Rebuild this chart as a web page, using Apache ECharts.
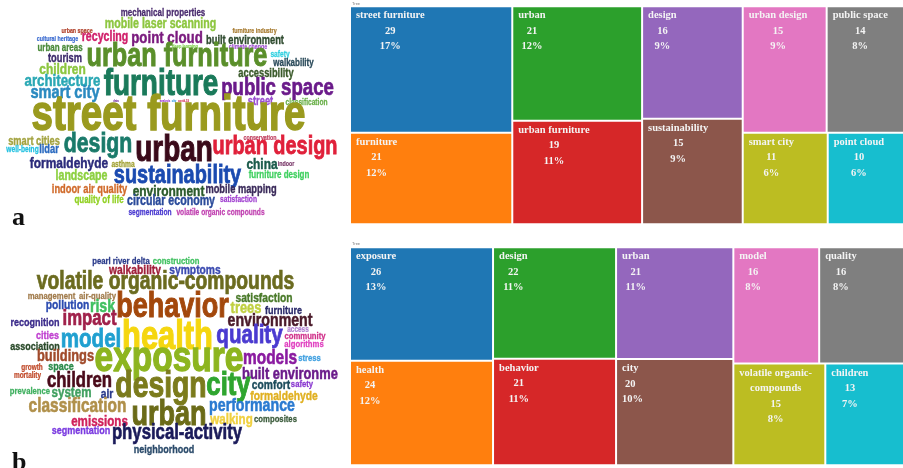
<!DOCTYPE html>
<html>
<head>
<meta charset="utf-8">
<script src="https://cdn.jsdelivr.net/npm/echarts@6/dist/echarts.min.js"></script>
<style>
  html, body { margin: 0; padding: 0; background: #ffffff; }
  #chart { width: 903px; height: 468px; }
</style>
</head>
<body>
<div id="chart"></div>
<script>
// ---------------- Panel a: keyword cloud (word, occurrence count) ----------------
const cloudAWords = [
  'mechanical properties', 'mobile laser scanning', 'urban space', 'furniture industry',
  'cultural heritage', 'recycling', 'point cloud', 'built environment', 'urban areas',
  'deep learning', 'climate change', 'urban furniture', 'tourism', 'safety', 'walkability',
  'children', 'accessibility', 'architecture', 'furniture', 'public space', 'smart city',
  'data', 'analysis', 'city', 'covid-19', 'street', 'classification', 'street furniture',
  'conservation', 'smart cities', 'well-being', 'lidar', 'design', 'urban', 'urban design',
  'indoor', 'formaldehyde', 'asthma', 'china', 'sustainability', 'landscape',
  'furniture design', 'indoor air quality', 'environment', 'mobile mapping',
  'quality of life', 'circular economy', 'satisfaction', 'segmentation',
  'volatile organic compounds'
];
const cloudACounts = [
  6, 8, 4, 4, 4, 8, 10, 7, 6, 3, 4, 19, 7, 5, 6, 9, 7, 10, 21, 14, 11,
  2, 2, 2, 2, 7, 5, 29, 4, 7, 5, 7, 16, 21, 15, 4, 9, 5, 9, 15, 8,
  6, 7, 9, 7, 6, 8, 5, 5, 5
];

// ---------------- Panel b: keyword cloud ----------------
const cloudBWords = [
  'pearl river delta', 'construction', 'walkability', 'symptoms',
  'volatile organic-compounds', 'management', 'air-quality', 'behavior', 'satisfaction',
  'pollution', 'risk', 'trees', 'furniture', 'recognition', 'impact', 'environment',
  'health', 'cities', 'model', 'quality', 'access', 'community', 'algorithms',
  'association', 'exposure', 'buildings', 'models', 'stress', 'growth', 'space',
  'mortality', 'built environment', 'children', 'design', 'city', 'comfort', 'safety',
  'prevalence', 'system', 'air', 'formaldehyde', 'classification', 'urban',
  'performance', 'emissions', 'walking', 'composites', 'segmentation',
  'physical-activity', 'neighborhood'
];
const cloudBCounts = [
  6, 6, 8, 8, 15, 6, 6, 21, 8, 8, 11, 10, 7, 7, 13, 11, 24, 7, 16, 16, 5, 6, 6,
  7, 26, 10, 12, 6, 5, 7, 5, 10, 13, 22, 20, 8, 6, 6, 9, 8, 8, 12, 21, 11, 9, 9, 6,
  7, 13, 7
];

// ---------------- Treemaps: top-10 keywords per panel ----------------
const treeACategories = [
  'street furniture', 'furniture', 'urban', 'urban furniture', 'design',
  'sustainability', 'urban design', 'public space', 'smart city', 'point cloud'
];
const treeAValues = [29, 21, 21, 19, 16, 15, 15, 14, 11, 10];

const treeBCategories = [
  'exposure', 'health', 'design', 'behavior', 'urban', 'city', 'model', 'quality',
  'volatile organic-compounds', 'children'
];
const treeBValues = [26, 24, 22, 21, 21, 20, 16, 16, 15, 13];

// ---------------- Word placement inside each cloud box (centre x, centre y) ----------------
const cloudALayout = [
  [163, 13], [160.5, 24.5], [77, 31], [254.5, 31], [57.5, 39], [105, 37], [167, 38],
  [245, 41], [60, 48], [185, 47], [248, 47], [177, 57.5], [65, 59], [280, 55],
  [293.5, 63], [62.5, 70], [266, 74], [62.5, 81.5], [161, 85], [277.5, 88], [65, 93],
  [116, 101], [165, 101], [174, 101], [183.5, 101], [260.5, 101.5], [306.5, 102.5],
  [168.5, 116.5], [260, 138.5], [34, 142], [22.5, 150], [49, 150], [98, 144],
  [174, 151.5], [275, 147], [286, 164], [69, 163.5], [123, 164.5], [262, 164.5],
  [177.5, 175.5], [81.5, 176], [279, 175], [89.5, 190], [168.5, 192], [241, 190],
  [99, 200], [171, 201], [238.5, 200], [150, 213], [220.5, 213]
];
const cloudBLayout = [
  [121, 21], [176, 21.5], [135, 30], [195, 30], [165.5, 42.5], [51.5, 56], [97.5, 56],
  [172.5, 67.5], [264, 58.5], [67.5, 65.5], [102.5, 66.5], [246, 68.5], [283.5, 70.5],
  [35, 82.5], [89.5, 79], [270, 81], [167.5, 97.5], [47.5, 96], [91, 100], [249.5, 95.5],
  [298, 90], [305, 96], [304, 104], [35, 106.5], [169, 119.5], [65.5, 116], [270, 118.5],
  [309.5, 118], [32, 128], [61, 127], [27.5, 135.5], [296, 134.5], [79.5, 141.5],
  [161, 146.5], [228.5, 146], [271, 145.5], [302, 144], [30, 151.5], [71.5, 153],
  [107, 154], [284, 156], [77.5, 167], [169, 175], [252, 166], [99.5, 182], [231.5, 180],
  [275.5, 179.5], [81, 191], [177, 193], [164, 210]
];

// ---------------- Colours ----------------
const cloudAColors = [
  '#4a2c6e', '#8dc63f', '#b0402a', '#a5782c', '#3a6ad0', '#d0206a', '#7a1a7e', '#2e4a2e',
  '#4a8a3a', '#7ed04a', '#a050d0', '#5a8f2a', '#3b2a6a', '#30d0e0', '#2a4a5a', '#8cc63f',
  '#3a5a2a', '#2aa8b4', '#1a7a5a', '#6a1a8a', '#2a8ac0', '#7a3aa0', '#a040d0', '#40a0e0',
  '#d03050', '#9b4fd0', '#6ab04a', '#9a9a1e', '#c04060', '#a3a340', '#20c0e0', '#2a6ac0',
  '#1a7a6a', '#3a0a1a', '#e0203a', '#7a3a6a', '#2a2a7a', '#a0a030', '#1a5a4a', '#1a4ab0',
  '#8cd040', '#40d060', '#d06a2a', '#2a5a2a', '#3a2a5a', '#90d020', '#2a4a9a', '#a040d0',
  '#4a3ad0', '#c040b0'
];
const cloudBColors = [
  '#2a3a8a', '#40c060', '#a0203a', '#3a4ab0', '#6b6b1f', '#a07a4a', '#a07a4a', '#a3480c',
  '#4a7a2a', '#2a4ab0', '#40c060', '#c0d040', '#2a2a6a', '#3a2a8a', '#a0204a', '#4a1a2a',
  '#f5d60f', '#c040d0', '#20a0d0', '#4a3ad0', '#b080d0', '#d0308a', '#e040c0', '#2a4a2a',
  '#8db51f', '#a04a2a', '#8a1aa0', '#40a0e0', '#c04a2a', '#2a8a4a', '#c04a2a', '#6a1a8a',
  '#4a0a1a', '#7b7b1c', '#2fa52f', '#1a4a5a', '#8a3ad0', '#40b060', '#40a060', '#2a3a8a',
  '#e0b020', '#b0904a', '#6b6b18', '#2a7ad0', '#d0205a', '#f0d040', '#3a5a3a', '#7a3ae0',
  '#1a1a5a', '#2a4a6a'
];
const treePalette = [
  '#1f77b4', '#ff7f0e', '#2ca02c', '#d62728', '#9467bd',
  '#8c564b', '#e377c2', '#7f7f7f', '#bcbd22', '#17becf'
];

// ---------------- Helpers ----------------
const WORD_FONT = '"Liberation Sans", Arial, sans-serif';
const WORD_CONDENSE = 0.82;            // horizontal squeeze for a condensed display face
const WORD_STRETCH = 1.06;             // slightly taller glyphs
const LABEL_FONT = '"Liberation Serif", "Times New Roman", serif';
const LABEL_SIZE = 10.5;
const LABEL_LINE = 15.5;

const measureCtx = document.createElement('canvas').getContext('2d');
function textWidth(s) {
  measureCtx.font = 'bold ' + LABEL_SIZE + 'px ' + LABEL_FONT;
  return measureCtx.measureText(s).width;
}

function cloudSeries(words, counts, layout, colors, pxPerCount, gridIndex, clip) {
  return {
    type: 'custom',
    coordinateSystem: 'cartesian2d',
    xAxisIndex: gridIndex,
    yAxisIndex: gridIndex,
    clip: clip,
    silent: true,
    animation: false,
    data: words.map((w, i) => ({ name: w, value: [layout[i][0], layout[i][1], counts[i]] })),
    renderItem: function (params, api) {
      const pt = api.coord([api.value(0), api.value(1)]);
      const i = params.dataIndex;
      const size = api.value(2) * pxPerCount;
      return {
        type: 'text',
        x: pt[0],
        y: pt[1],
        scaleX: WORD_CONDENSE,
        scaleY: WORD_STRETCH,
        style: {
          text: words[i],
          fontFamily: WORD_FONT,
          fontWeight: 'bold',
          fontSize: size,
          fill: colors[i],
          stroke: colors[i],
          lineWidth: size * 0.03,
          align: 'center',
          verticalAlign: 'middle'
        }
      };
    }
  };
}

function nameLines(name) {
  // long compound keywords wrap after the hyphen
  if (name.length > 20 && name.indexOf('-') > 0) {
    const k = name.indexOf('-');
    return [name.slice(0, k + 1), name.slice(k + 1)];
  }
  return [name];
}

function tokenStyle(offset) {
  return {
    fontFamily: LABEL_FONT,
    fontWeight: 'bold',
    fontSize: LABEL_SIZE,
    lineHeight: LABEL_LINE,
    color: '#f4f4f4',
    padding: [0, 0, 0, Math.max(0, offset)]
  };
}

function treemapSeries(cats, vals, top) {
  const total = vals.reduce((a, b) => a + b, 0);
  const pct = v => Math.round(v / total * 100) + '%';
  return {
    type: 'treemap',
    left: 351,
    top: top,
    width: 553,
    height: 216,
    roam: false,
    nodeClick: false,
    sort: false,
    squareRatio: 1,
    silent: true,
    animation: false,
    breadcrumb: { show: false },
    levels: [{ itemStyle: { gapWidth: 2, borderWidth: 0, borderColor: '#ffffff' } }],
    label: {
      show: true,
      position: [5, 0.6],
      padding: 0,
      formatter: function (p) {
        const lines = nameLines(p.name);
        return lines.map((l, j) => '{n' + j + '|' + l + '}').join('\n') +
          '\n{v|' + p.value + '}\n{p|' + pct(p.value) + '}';
      }
    },
    data: cats.map((c, i) => {
      const lines = nameLines(c);
      const widths = lines.map(textWidth);
      const w = Math.max.apply(null, widths);
      const rich = {
        v: tokenStyle((w - textWidth(String(vals[i]))) / 2),
        p: tokenStyle((w - textWidth(pct(vals[i]))) / 2)
      };
      lines.forEach((l, j) => { rich['n' + j] = tokenStyle((w - widths[j]) / 2); });
      return {
        name: c,
        value: vals[i],
        itemStyle: { color: treePalette[i] },
        label: { rich: rich }
      };
    })
  };
}

// ---------------- Chart ----------------
const chart = echarts.init(document.getElementById('chart'), null, { renderer: 'canvas' });

chart.setOption({
  backgroundColor: '#ffffff',
  animation: false,
  grid: [
    { left: 0, top: 0, width: 340, height: 230 },
    { left: 0, top: 240, width: 338, height: 228 }
  ],
  xAxis: [
    { gridIndex: 0, type: 'value', min: 0, max: 340, show: false },
    { gridIndex: 1, type: 'value', min: 0, max: 338, show: false }
  ],
  yAxis: [
    { gridIndex: 0, type: 'value', min: 0, max: 230, inverse: true, show: false },
    { gridIndex: 1, type: 'value', min: 0, max: 228, inverse: true, show: false }
  ],
  graphic: [
    { type: 'text', left: 352, top: 1.5, silent: true,
      style: { text: 'Tree', fontSize: 4, fontFamily: 'Arial, sans-serif', fill: '#777' } },
    { type: 'text', left: 352, top: 241.5, silent: true,
      style: { text: 'Tree', fontSize: 4, fontFamily: 'Arial, sans-serif', fill: '#777' } },
    { type: 'text', x: 12, y: 218.2, silent: true,
      style: { text: 'a', font: 'bold 26px ' + LABEL_FONT, fill: '#111', align: 'left', verticalAlign: 'middle' } },
    { type: 'text', x: 12, y: 463.2, silent: true,
      style: { text: 'b', font: 'bold 26px ' + LABEL_FONT, fill: '#111', align: 'left', verticalAlign: 'middle' } }
  ],
  series: [
    cloudSeries(cloudAWords, cloudACounts, cloudALayout, cloudAColors, 1.62, 0, false),
    cloudSeries(cloudBWords, cloudBCounts, cloudBLayout, cloudBColors, 1.57, 1, true),
    treemapSeries(treeACategories, treeAValues, 7.3),
    treemapSeries(treeBCategories, treeBValues, 248.3)
  ]
});
</script>
</body>
</html>
